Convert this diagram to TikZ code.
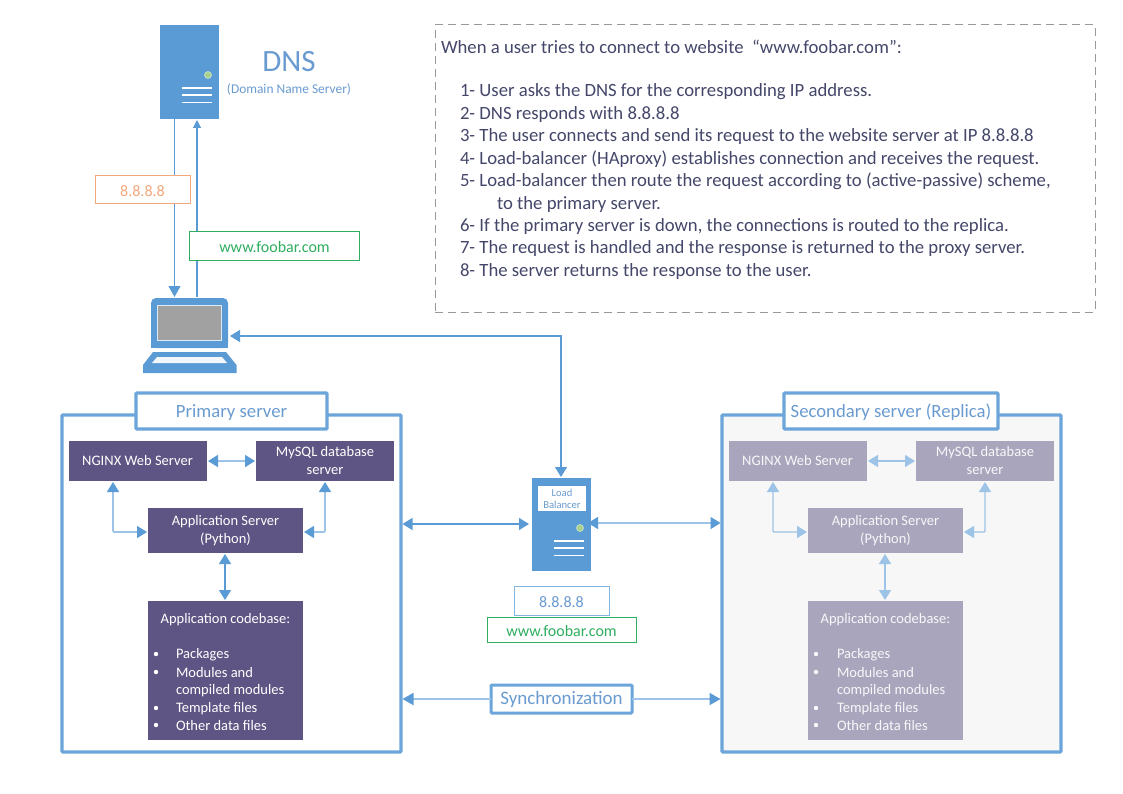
\documentclass[tikz,border=0pt]{standalone}
\usepackage{fontspec}
\setmainfont{Carlito}
\usetikzlibrary{arrows.meta}
\definecolor{blu}{HTML}{5B9BD5}
\definecolor{lblu}{HTML}{9DC3E6}
\definecolor{pur}{HTML}{5F5584}
\definecolor{lpur}{HTML}{A9A5BC}
\definecolor{org}{HTML}{F4A87C}
\definecolor{grn}{HTML}{2FAE60}
\definecolor{txb}{HTML}{6A9BD0}
\definecolor{dot}{HTML}{A9D18E}
\definecolor{slate}{HTML}{44476A}
\tikzset{
 x=1pt,y=-1pt,
 every node/.style={outer sep=0pt},
 sz/.style 2 args={minimum width=#1pt,minimum height=#2pt},
 smalltip/.style={-{Triangle[length=8pt,width=8pt,blu]},draw=blu,line width=1.1pt},
 bigtip/.style={-{Triangle[length=11pt,width=12pt,blu]},draw=blu,line width=1.1pt},
 biarrow/.style={{Triangle[length=10pt,width=12pt,blu]}-{Triangle[length=10pt,width=12pt,blu]},draw=blu,line width=1.4pt},
 softarrow/.style={{Triangle[length=10pt,width=12pt,blu]}-{Triangle[length=10pt,width=12pt,blu]},draw=lblu,line width=1.6pt},
 syncarrow/.style={-{Triangle[length=11pt,width=12pt,blu]},draw=lblu,line width=1.8pt},
 ghostarrow/.style={{Triangle[length=10pt,width=12pt,lblu]}-{Triangle[length=10pt,width=12pt,lblu]},draw=lblu,line width=1.4pt},
 pbox/.style={fill=pur,draw=none,text=white,font=\fontsize{14.5}{18}\selectfont,align=center,inner sep=0pt,anchor=north west},
 sbox/.style={pbox,fill=lpur,text=white!92!lpur},
 frame/.style={draw=blu!90!white,line width=3.4pt,rounded corners=1pt},
 title/.style={draw=blu!90!white,line width=3.4pt,fill=white,text=txb,rounded corners=1pt,font=\fontsize{18.7}{22}\selectfont,inner sep=0pt,anchor=north west},
 tag/.style={fill=white,inner sep=0pt,anchor=north west,line width=1pt,font=\fontsize{16}{18}\selectfont},
 stepline/.style={anchor=west,inner sep=0pt,font=\fontsize{18.7}{22}\selectfont,text=slate}
}
\newcommand{\lowr}[2]{\raisebox{-#1pt}[\height][\depth]{#2}}
\newcommand{\apptext}{\lowr{.8}{\begin{tabular}{@{}c@{}}Application Server\\(Python)\end{tabular}}}
\newcommand{\serverbars}[2]{%
 \fill[dot,draw=white!60!dot,line width=.5pt] (#1+48,#2+50) circle (3.5);
 \foreach \d in {0,7.2,14.4}{\draw[white,line width=1.5pt] (#1+22,#2+63+\d) -- (#1+52,#2+63+\d);}
}
\begin{document}
\begin{tikzpicture}
\useasboundingbox (0,0) rectangle (1123,794);
\fill[white] (0,0) rectangle (1123,794);

% DNS
\node[fill=blu,inner sep=0pt,anchor=north west,sz={59}{94}] (dns) at (160,25) {};
\serverbars{160}{25}
\node[text=txb,font=\fontsize{31}{33}\selectfont,inner sep=0pt] (dnst) at (289,61.5) {DNS};
\node[text=txb,font=\fontsize{13.4}{15}\selectfont,inner sep=0pt] (dnss) at (289,90) {(Domain Name Server)};

% laptop
\fill[blu,rounded corners=5pt] (151,298) rectangle (228,348);
\fill[blu] (151,340) rectangle (228,348);
\node[fill=black!37,draw=white!80!blu,line width=.8pt,inner sep=0pt,anchor=north west,sz={64}{35}] (scr) at (157.5,305) {};
\fill[blu] (153,352) -- (226,352) -- (236.5,365) -- (236.5,373) -- (143,373) -- (143,365) -- cycle;
\fill[white!92!blu] (157,357) -- (222,357) -- (227,363) -- (152,363) -- cycle;
\coordinate (lapa) at (174.5,297);
\coordinate (lapb) at (197,297);
\coordinate (lapc) at (230,336);

% DNS arrows
\draw[bigtip] (174.5,119) -- (lapa);
\draw[smalltip] (lapb) -- (197,120);
\node[tag,draw=org,text=org,sz={95}{28}] (ip1) at (95,176) {\lowr{1}{8.8.8.8}};
\node[tag,draw=grn,text=grn,sz={170}{28}] (www1) at (189.5,232) {\lowr{1}{www.foobar.com}};

% Instruction box
\node[draw=black!40,dash pattern=on 8pt off 5pt,line width=1pt,inner sep=0pt,anchor=north west,sz={660}{287}] (info) at (435,25) {};
\node[stepline] (s0) at (441,47) {When a user tries to connect to website~~“www.foobar.com”:};
\node[stepline] (s1) at (460,91.5) {1- User asks the DNS for the corresponding IP address.};
\node[stepline] (s2) at (460,114.5) {2- DNS responds with 8.8.8.8};
\node[stepline] (s3) at (460,137) {3- The user connects and send its request to the website server at IP 8.8.8.8};
\node[stepline] (s4) at (460,159.5) {4- Load-balancer (HAproxy) establishes connection and receives the request.};
\node[stepline] (s5) at (460,181.5) {5- Load-balancer then route the request according to (active-passive) scheme,};
\node[stepline] (s5b) at (497,204.5) {to the primary server.};
\node[stepline] (s6) at (460,227) {6- If the primary server is down, the connections is routed to the replica.};
\node[stepline] (s7) at (460,249) {7- The request is handled and the response is returned to the proxy server.};
\node[stepline] (s8) at (460,271.5) {8- The server returns the response to the user.};

% Primary
\node[frame,inner sep=0pt,anchor=north west,sz={339}{337}] (prim) at (62,415) {};
\node[title,sz={191}{36}] (primt) at (136,393) {\lowr{1.5}{Primary server}};
\node[pbox,sz={138}{40}] (n1) at (68.5,441) {NGINX Web Server};
\node[pbox,sz={138}{40}] (m1) at (256,441) {MySQL database\\server};
\node[pbox,sz={155}{45}] (a1) at (148,508) {\apptext};
\node[pbox,sz={155}{139}] (c1) at (148,601) {};
\node[text=white,font=\fontsize{14.5}{18}\selectfont,inner sep=0pt] at (225.5,620) {Application codebase:};
\foreach \y/\t in {655/Packages,673/Modules and,691/compiled modules,709/Template files,726/Other data files}{
 \node[anchor=west,text=white,font=\fontsize{14.5}{18}\selectfont,inner sep=0pt] at (176,\y) {\t};}
\foreach \y in {654,672,708,725}{\fill[white] (156,\y) circle (2.2);}
\draw[softarrow] ([xshift=1.5pt]n1.east) -- ([xshift=-1pt]m1.west);
\draw[softarrow,rounded corners=1pt] (113,482) -- (113,532) -- (147,532);
\draw[softarrow,rounded corners=1pt] (325,482) -- (325,532) -- (304,532);
\draw[biarrow] (225,554) -- (225,600);

% Secondary
\node[frame,fill=black!3,inner sep=0pt,anchor=north west,sz={339}{337}] (sec) at (722,415) {};
\node[title,sz={214}{36}] (sect) at (784,393) {\lowr{1.5}{Secondary server (Replica)}};
\node[sbox,sz={138}{40}] (n2) at (728.5,441) {NGINX Web Server};
\node[sbox,sz={138}{40}] (m2) at (916,441) {MySQL database\\server};
\node[sbox,sz={155}{45}] (a2) at (808,508) {\apptext};
\node[sbox,sz={155}{139}] (c2) at (808,601) {};
\node[text=white!92!lpur,font=\fontsize{14.5}{18}\selectfont,inner sep=0pt] at (885.5,620) {Application codebase:};
\foreach \y/\t in {655/Packages,673/Modules and,691/compiled modules,709/Template files,726/Other data files}{
 \node[anchor=west,text=white!92!lpur,font=\fontsize{14.5}{18}\selectfont,inner sep=0pt] at (837,\y) {\t};}
\foreach \y in {654,672,708,725}{\fill[white!92!lpur] (816,\y) circle (2.2);}
\draw[ghostarrow] ([xshift=1.5pt]n2.east) -- ([xshift=-1pt]m2.west);
\draw[ghostarrow,rounded corners=1pt] (773,482) -- (773,532) -- (807,532);
\draw[ghostarrow,rounded corners=1pt] (985,482) -- (985,532) -- (964,532);
\draw[ghostarrow] (885,554) -- (885,600);

% Load balancer
\node[fill=blu,inner sep=0pt,anchor=north west,sz={59}{92.5}] (lb) at (532,478) {};
\serverbars{532}{478}
\node[fill=white,text=txb,align=center,inner sep=0pt,anchor=north west,font=\fontsize{10.6}{12}\selectfont,sz={48}{25}] (lbt) at (538,486) {Load\\Balancer};
\node[tag,draw=lblu!60!blu,text=txb,sz={95}{28.5}] (ip2) at (514,586.5) {\lowr{1}{8.8.8.8}};
\node[tag,draw=grn,text=grn,sz={149}{25}] (www2) at (487,617.5) {\lowr{1}{www.foobar.com}};
\node[title,line width=3pt,font=\fontsize{19}{22}\selectfont,sz={141}{28}] (sync) at (491,685) {\lowr{.5}{Synchronization}};

\draw[biarrow,line width=1.1pt] (lapc) -- (561,336) -- (561,477);
\draw[biarrow] (402.5,524) -- (529,524);
\draw[softarrow] (588,523) -- (720.5,523);
\draw[syncarrow] (sync.west) -- (402.5,699);
\draw[syncarrow] (sync.east) -- (720.5,699);
\end{tikzpicture}
\end{document}
